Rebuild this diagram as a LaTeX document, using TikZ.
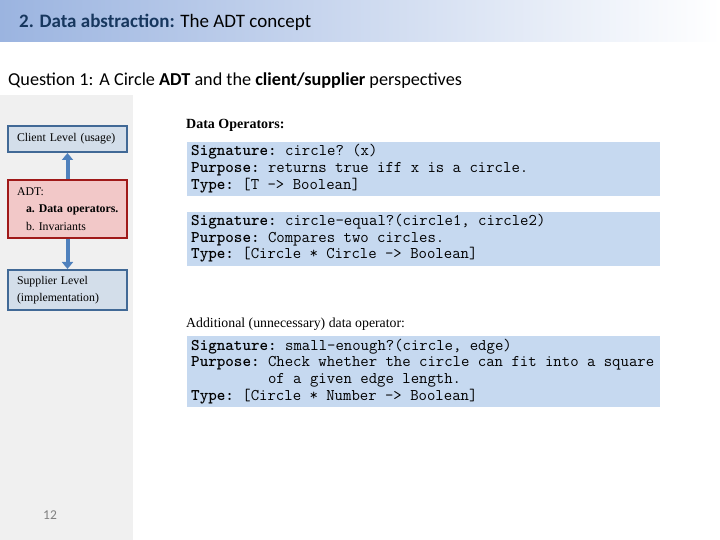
\documentclass[tikz,border=0pt]{standalone}
\usepackage{fontspec}
\setmainfont{Liberation Serif}
\setsansfont{Carlito}
\usetikzlibrary{arrows.meta}
\definecolor{hdr}{RGB}{155,180,224}
\definecolor{panel}{RGB}{240,240,240}
\definecolor{lvlfill}{RGB}{211,222,234}
\definecolor{lvldraw}{RGB}{65,105,150}
\definecolor{adtfill}{RGB}{242,200,200}
\definecolor{adtdraw}{RGB}{160,25,25}
\definecolor{codefill}{RGB}{198,217,240}
\definecolor{arrowc}{RGB}{79,129,189}
\definecolor{navyt}{RGB}{23,55,94}
\tikzset{
  lvlbox/.style={draw=lvldraw, fill=lvlfill, line width=2bp, anchor=north west,
    text width=101bp, inner xsep=9bp, inner ysep=0pt, align=left,
    font=\frenchspacing\fontsize{11.8bp}{17.5bp}\selectfont},
  adtbox/.style={lvlbox, draw=adtdraw, fill=adtfill},
  codebox/.style={fill=codefill, anchor=north west, inner sep=0pt, minimum width=473bp},
  codetext/.style={anchor=base west, inner sep=0pt,
    font=\ttfamily\frenchspacing\fontsize{16.3bp}{16.7bp}\selectfont},
  link/.style={draw=arrowc, line width=4bp},
  tip/.style={-{Triangle[width=11bp,length=7bp]}},
}
\begin{document}
\begin{tikzpicture}[x=1bp,y=-1bp]
\useasboundingbox (0,0) rectangle (720,540);
\fill[white] (0,0) rectangle (720,540);
\shade[left color=hdr, right color=white] (0,0) rectangle (720,42);
\fill[panel] (0,95) rectangle (133,540);

\node[anchor=base west, inner sep=0pt, font=\sffamily\fontsize{19bp}{22bp}\selectfont] (title) at (19,28)
  {\textcolor{navyt}{\bfseries 2. Data abstraction:} The ADT concept};
\node[anchor=base west, inner sep=0pt, font=\sffamily\fontsize{18.2bp}{21bp}\selectfont] (question) at (8,86)
  {Question 1:\hspace{6bp}A Circle \textbf{ADT} and the \textbf{client/supplier} perspectives};

% left: levels
\node[lvlbox, minimum height=26bp] (client) at (7,125) {\mbox{Client Level (usage)}};
\node[adtbox, minimum height=58bp] (adt) at (7,179)
  {\mbox{ADT:}\\\mbox{\hspace*{9bp}\textbf{a. Data operators.}}\\\mbox{\hspace*{9bp}b. Invariants}};
\node[lvlbox, minimum height=40bp] (supplier) at (7,269) {\mbox{Supplier Level}\\\mbox{(implementation)}};
\draw[link, tip] (adt.north) -- (client.south);
\draw[link, tip] (adt.south) -- (supplier.north);

\node[text=gray, font=\sffamily\fontsize{13.5bp}{15bp}\selectfont] (page) at (50,515) {12};

% right: operators
\node[anchor=base west, inner sep=0pt, font=\bfseries\fontsize{14bp}{16bp}\selectfont] (dop) at (186,129) {Data Operators:};

\node[codebox, minimum height=54bp] (code1) at (187,142) {};
\node[codetext] (text1) at (191,156) {\begin{tabular}[t]{@{}l@{}}
\textbf{Signature:} circle? (x)\\
\textbf{Purpose:} returns true iff x is a circle.\\
\textbf{Type:} [T -> Boolean]
\end{tabular}};

\node[codebox, minimum height=54bp] (code2) at (187,212) {};
\node[codetext] (text2) at (191,225.5) {\begin{tabular}[t]{@{}l@{}}
\textbf{Signature:} circle-equal?(circle1, circle2)\\
\textbf{Purpose:} Compares two circles.\\
\textbf{Type:} [Circle * Circle -> Boolean]
\end{tabular}};

\node[anchor=base west, inner sep=0pt, font=\fontsize{13.8bp}{16bp}\selectfont] (add) at (186,327) {Additional (unnecessary) data operator:};

\node[codebox, minimum height=71bp] (code3) at (187,336) {};
\node[codetext] (text3) at (191,350) {\begin{tabular}[t]{@{}l@{}}
\textbf{Signature:} small-enough?(circle, edge)\\
\textbf{Purpose:} Check whether the circle can fit into a square\\
\hphantom{\textbf{Purpose:}\ }of a given edge length.\\
\textbf{Type:} [Circle * Number -> Boolean]
\end{tabular}};
\end{tikzpicture}
\end{document}
